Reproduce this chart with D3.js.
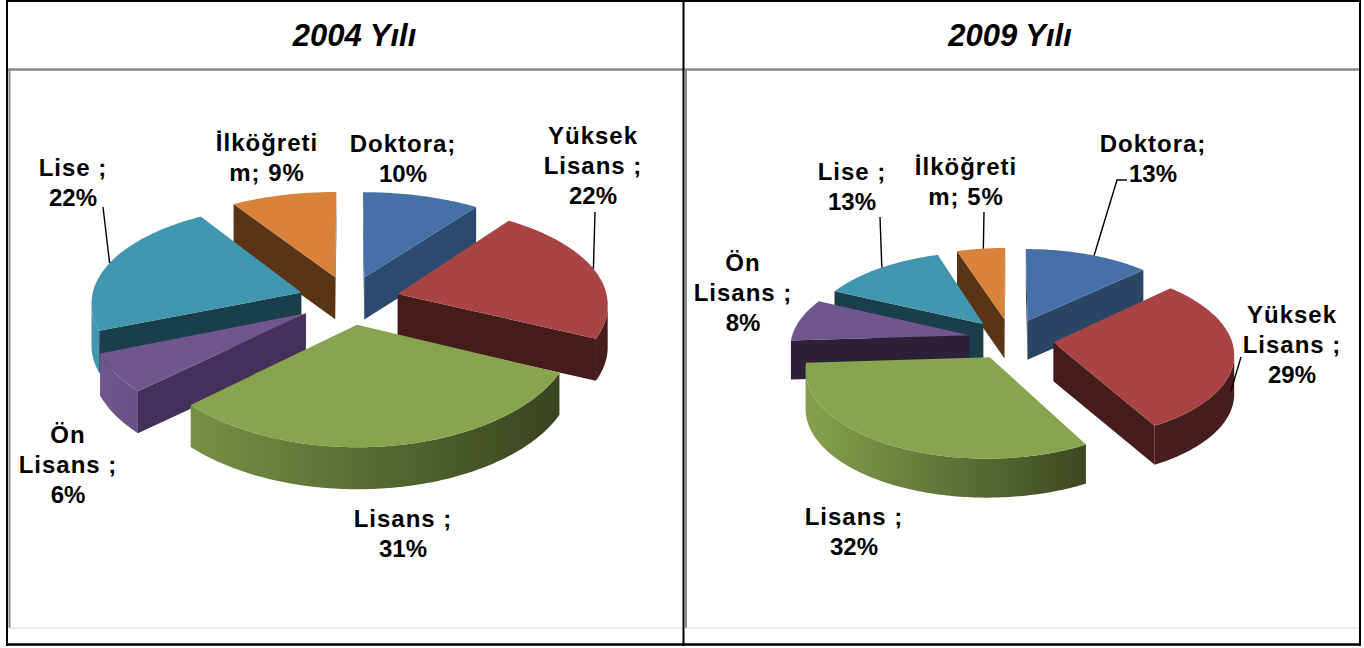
<!DOCTYPE html>
<html><head><meta charset="utf-8">
<script src="https://cdn.jsdelivr.net/npm/d3@7/dist/d3.min.js"></script>
<style>html,body{margin:0;padding:0;background:#fff}svg{display:block}
text{font-family:"Liberation Sans",Arial,sans-serif;fill:#000}</style></head>
<body><svg id="c" width="1364" height="648"></svg>
<script>
const categories = ["Doktora","Yüksek Lisans","Lisans","Ön Lisans","Lise","İlköğretim"];
const values2004 = [10,22,31,6,22,9];
const values2009 = [13,29,32,8,13,5];
const titles = ["2004 Yılı","2009 Yılı"];
const labels2004 = [["Doktora;","10%"],["Yüksek","Lisans ;","22%"],["Lisans ;","31%"],["Ön","Lisans ;","6%"],["Lise ;","22%"],["İlköğreti","m; 9%"]];
const labels2009 = [["Doktora;","13%"],["Yüksek","Lisans ;","29%"],["Lisans ;","32%"],["Ön","Lisans ;","8%"],["Lise ;","13%"],["İlköğreti","m; 5%"]];
const topColors = ["#4571A6","#A84544","#88A44E","#70568C","#4097AF","#D9823B"];
const wallColors2004 = ["#2C4A70","#451C1A","#36421C","#43315A","#1A3E4A","#5A3515"];
const wallColors2009 = ["#2B4565","#451C1A","#36421C","#2D2138","#1A3E4A","#5A3515"];

// layout of each panel: perspective camera + label anchors (centre x, first baseline y)
const panels = [
 {id:"a",values:values2004,labels:labels2004,walls:wallColors2004,titleX:354.5,
  cx:349,cy:300,R:210,ry:101,k:0.1225,kx:0.09,e:0.24,depth:42,shadeEnd:0.95,
  anchors:[[403,152],[593,144],[403,527],[68,443],[73,176],[267,151]],
  leaders:[null,{from:[[595,212]],frac:.49,z:0},null,null,{from:[[103,207]],frac:.5,z:0},null]},
 {id:"b",values:values2009,labels:labels2009,walls:wallColors2009,titleX:1010,
  cx:1011,cy:339,R:178,ry:84.5,k:0.12,kx:0.12,e:0.24,depth:39,shadeEnd:0.45,
  anchors:[[1153,152],[1292,323],[854,525],[743,271],[852,180],[966,175]],
  leaders:[{from:[[1127,180],[1117,180]],frac:.55,z:0},{from:[[1241,357]],frac:.6,z:.5},null,null,{from:[[880,217]],frac:.52,z:0},{from:[[984,212]],frac:.55,z:0}]}
];

const svg = d3.select("#c");
const defs = svg.append("defs");
const lineGen = d3.line();
const pie = d3.pie().sort(null).value(d=>d);

panels.forEach((p,pi)=>{
  const g = svg.append("g");
  const project = (X,Y,z)=>{
    const w = 1/(1-p.k*Y), wx = 1/(1-p.kx*Y);
    return [p.cx+p.R*X*wx, p.cy+p.ry*Y*w+(z||0)*p.depth];
  };
  const arcs = pie(p.values).map((a,i)=>{
    const b=(a.startAngle+a.endAngle)/2;
    const ox=p.e*Math.sin(b), oy=-p.e*Math.cos(b);
    const pt=(th,z,r=1)=>project(ox+r*Math.sin(th),oy-r*Math.cos(th),z);
    return {i,a,b,pt,order:oy};
  }).sort((m,n)=>m.order-n.order);

  arcs.forEach(s=>{
    const {i,a,pt}=s;
    const n=Math.max(8,Math.ceil((a.endAngle-a.startAngle)*60));
    const ths=d3.range(n+1).map(j=>a.startAngle+(a.endAngle-a.startAngle)*j/n);
    const gid=`w${p.id}${i}`;
    const gr=defs.append("linearGradient").attr("id",gid).attr("gradientUnits","userSpaceOnUse")
      .attr("x1",p.cx-1.2*p.R).attr("x2",p.cx+p.shadeEnd*p.R).attr("y1",0).attr("y2",0);
    gr.append("stop").attr("offset",0).attr("stop-color",topColors[i]);
    gr.append("stop").attr("offset",1).attr("stop-color",d3.rgb(topColors[i]).darker(2.4).formatHex());
    // outer wall: only the part that turns towards the viewer
    const vis=ths.filter(t=>pt(t+0.001,0)[0]-pt(t,0)[0]<0);
    if(vis.length>1){
      const poly=vis.map(t=>pt(t,0)).concat(vis.slice().reverse().map(t=>pt(t,1)));
      g.append("path").attr("d",lineGen(poly)+"Z").attr("fill",`url(#${gid})`);
    }
    // radial side walls, culled by screen orientation
    [[a.startAngle,1],[a.endAngle,-1]].forEach(([t,sgn])=>{
      const A=pt(t,0,0),B=pt(t,0,1),C=pt(t,1,1),D=pt(t,1,0);
      const area=(B[0]-A[0])*(C[1]-A[1])-(B[1]-A[1])*(C[0]-A[0]);
      if(area*sgn<0){
        g.append("path").attr("d",lineGen([A,B,C,D])+"Z").attr("fill",p.walls[i]);
      }
    });
    // top face
    const face=[pt(0,0,0)].concat(ths.map(t=>pt(t,0)));
    g.append("path").attr("d",lineGen(face)+"Z").attr("fill",topColors[i]);
  });

  // leader lines
  p.leaders.forEach((l,i)=>{
    if(!l) return;
    const s=arcs.find(x=>x.i===i);
    const th=s.a.startAngle+(s.a.endAngle-s.a.startAngle)*l.frac;
    g.append("path").attr("d",lineGen(l.from.concat([s.pt(th,l.z)])))
      .attr("fill","none").attr("stroke","#000").attr("stroke-width",1.4);
  });

  // labels
  p.labels.forEach((lines,i)=>{
    const t=g.append("text").attr("text-anchor","middle").attr("font-weight","bold").attr("font-size",24);
    lines.forEach((ln,j)=>{
      t.append("tspan").attr("x",p.anchors[i][0]).attr("y",p.anchors[i][1]+j*30)
        .attr("letter-spacing",/^\d+%$/.test(ln)?0:1).text(ln);
    });
  });
  g.append("text").attr("x",p.titleX).attr("y",45.5).attr("text-anchor","middle")
    .attr("font-size",31).attr("font-weight","bold").attr("font-style","italic").text(titles[pi]);
});

// table frame
const rule=(x1,y1,x2,y2,c,w)=>svg.append("line").attr("x1",x1).attr("y1",y1).attr("x2",x2).attr("y2",y2).attr("stroke",c).attr("stroke-width",w);
rule(9.5,70,9.5,628,"#8a8a8a",2);
rule(686,70,686,628,"#8a8a8a",2);
rule(8,69.5,1360,69.5,"#8a8a8a",2.5);
rule(9,628,1360,628,"#d8d8d8",1);
rule(7,1,1360,1,"#000",2);
rule(7,644.5,1360,644.5,"#000",2.5);
rule(7,0,7,646,"#000",2);
rule(683.5,0,683.5,646,"#000",2);
rule(1360,0,1360,646,"#000",2);
</script></body></html>
